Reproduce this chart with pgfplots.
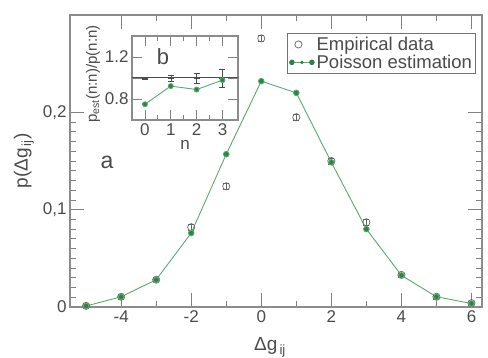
\documentclass[border=0pt]{standalone}
\usepackage{fontspec}
\setmainfont{Liberation Sans}
\usepackage{pgfplots}
\pgfplotsset{compat=1.18}
\definecolor{pgreen}{RGB}{90,170,110}
\definecolor{pgreend}{RGB}{45,130,70}
\definecolor{txt}{RGB}{75,75,75}
\begin{document}
\begin{tikzpicture}[font=\fontsize{16}{18}\selectfont]
\useasboundingbox (-70pt,-51pt) rectangle (418pt,307pt);
\begin{axis}[at={(0pt,0pt)}, anchor=south west, scale only axis,
  width=412pt, height=292pt,
  xmin=-5.46, xmax=6.3, ymin=0, ymax=0.3,
  xtick={-4,-2,0,2,4,6}, minor x tick num=1,
  ytick={0,0.1,0.2}, yticklabels={0,{0,1},{0,2}}, minor y tick num=9,
  major tick length=14pt, minor tick length=6pt,
  axis line style={black!45, line width=1.2pt}, every tick/.style={black!50, line width=0.8pt},
  tick label style={text=txt, font=\fontsize{17}{19}\selectfont},
  /pgf/number format/assume math mode=true,
  xlabel={Δg\textsubscript{\,ij}}, ylabel={p(Δg\textsubscript{\,ij})},
  xlabel style={text=txt, font=\fontsize{19}{21}\selectfont, yshift=-8pt, xshift=-6pt},
  ylabel style={text=txt, font=\fontsize{19}{21}\selectfont, yshift=2pt},
  legend style={at={(0.985,0.938)}, anchor=north east, draw=black!55, line width=0.8pt,
    font=\fontsize{18.5}{20}\selectfont, text=txt, inner sep=1.5pt, row sep=-1pt},
  legend cell align=left,
]
\addplot[only marks, mark=o, mark size=3.6pt, black!60, line width=0.7pt,
  error bars/.cd, y dir=both, y explicit, error mark options={rotate=90, mark size=3pt, black!60}]
  coordinates {
  (-5,0.0012) +- (0,0.002)
  (-4,0.0105) +- (0,0.002)
  (-3,0.028) +- (0,0.002)
  (-2,0.082) +- (0,0.003)
  (-1,0.124) +- (0,0.003)
  (0,0.276) +- (0,0.003)
  (1,0.195) +- (0,0.003)
  (2,0.150) +- (0,0.003)
  (3,0.087) +- (0,0.003)
  (4,0.033) +- (0,0.002)
  (5,0.0105) +- (0,0.002)
  (6,0.004) +- (0,0.002)
  };
\addlegendentry{Empirical data}
\addplot[pgreen, line width=0.9pt, mark=*, mark size=2.8pt, mark options={fill=pgreend, draw=pgreen},
  legend image code/.code={
    \draw[pgreen, line width=0.9pt] (0pt,0pt) -- (24pt,0pt);
    \fill[pgreend] (2pt,0pt) circle (2.3pt);
    \fill[pgreend] (22pt,0pt) circle (2.3pt);
    \fill[pgreend] (12pt,0pt) circle (1.2pt);}]
  coordinates {
  (-5,0.001) (-4,0.0105) (-3,0.028) (-2,0.076) (-1,0.157) (0,0.232)
  (1,0.220) (2,0.1486) (3,0.080) (4,0.0325) (5,0.0105) (6,0.0036)
  };
\addlegendentry{Poisson estimation}
\node[text=txt, font=\fontsize{23}{25}\selectfont] at (axis cs:-4.4,0.149) {a};
\end{axis}
\begin{axis}[at={(62pt,187pt)}, anchor=south west, scale only axis,
  width=106pt, height=84pt,
  xmin=-0.5, xmax=3.6, ymin=0.6, ymax=1.4,
  xtick={0,1,2,3}, minor x tick num=1,
  ytick={0.8,1.0,1.2}, yticklabels={0.8,,1.2},
  major tick length=10pt, minor tick length=5pt,
  axis background/.style={fill=white},
  axis line style={black!45, line width=1.2pt}, every tick/.style={black!50, line width=0.8pt},
  tick label style={text=txt, font=\fontsize{17}{19}\selectfont},
  /pgf/number format/assume math mode=true,
  xlabel={n}, ylabel={p\textsubscript{est}(n:n)/p(n:n)},
  xlabel style={text=txt, font=\fontsize{17}{19}\selectfont, yshift=2pt},
  ylabel style={text=txt, font=\fontsize{15}{17}\selectfont, yshift=-2pt, xshift=4pt},
]
\addplot[black!70, line width=1pt, no marks] coordinates {(-0.5,1) (3.6,1)};
\addplot[only marks, mark=-, mark size=3pt, black!70,
  error bars/.cd, y dir=both, y explicit, error mark options={rotate=90, mark size=3pt, black!70}]
  coordinates {(0,1) +- (0,0.01) (1,1) +- (0,0.03) (2,1) +- (0,0.045) (3,1) +- (0,0.085)};
\addplot[pgreen, line width=0.9pt, mark=*, mark size=2.5pt, mark options={fill=pgreend, draw=pgreen}]
  coordinates {(0,0.75) (1,0.923) (2,0.89) (3,0.98)};
\node[text=txt, font=\fontsize{22}{24}\selectfont] at (axis cs:0.7,1.2) {b};
\end{axis}
\end{tikzpicture}
\end{document}
